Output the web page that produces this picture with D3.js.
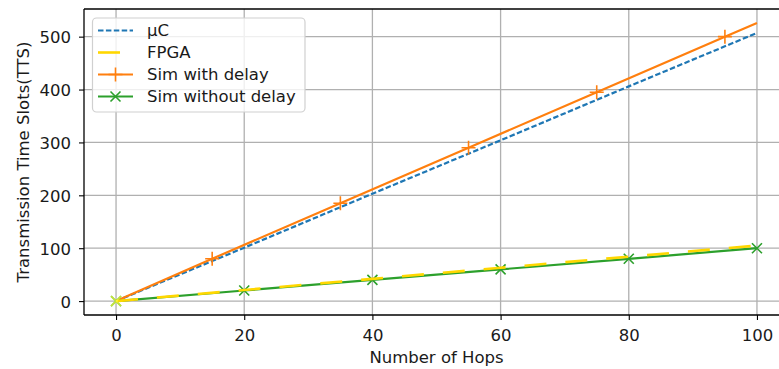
<!DOCTYPE html>
<html>
<head>
<meta charset="utf-8">
<script src="https://cdn.jsdelivr.net/npm/d3@7"></script>
<style>
  html, body { margin: 0; padding: 0; background: #fff; overflow: hidden; }
  svg { display: block; font-family: "DejaVu Sans", sans-serif; }
</style>
</head>
<body>
<svg id="chart" width="779" height="369"></svg>
<script>
// ---- data ----
const xTicks = [0, 20, 40, 60, 80, 100];
const yTicks = [0, 100, 200, 300, 400, 500];

const ucX = [0, 20, 40, 60, 80, 100];
const ucY = [0, 101, 203, 304, 406, 507];

const fpgaX = [0, 20, 40, 60, 80, 100];
const fpgaY = [0, 21, 42, 63, 84, 105];

const simDelayX = [0, 15, 35, 55, 75, 95, 100];
const simDelayY = [0, 80, 185, 290, 395, 500, 526];
const simDelayMarkX = [15, 35, 55, 75, 95];

const simNoDelayX = [0, 20, 40, 60, 80, 100];
const simNoDelayY = [0, 20, 40, 60, 80, 100];

const legendLabels = ["\u03bcC", "FPGA", "Sim with delay", "Sim without delay"];
const xLabel = "Number of Hops";
const yLabel = "Transmission Time Slots(TTS)";

// ---- layout ----
const svg = d3.select("#chart");
const L = 84, T = 9, R = 789, B = 315;
const x = d3.scaleLinear().domain([-5, 105]).range([L, R]);
const y = d3.scaleLinear().domain([-26.3, 552.3]).range([B, T]);
const FS = "16.5px";

// grid
const grid = svg.append("g");
xTicks.forEach(t => grid.append("line")
  .attr("x1", x(t)).attr("x2", x(t)).attr("y1", T).attr("y2", B)
  .attr("stroke", "#b0b0b0").attr("stroke-width", 1.3));
yTicks.forEach(t => grid.append("line")
  .attr("x1", L).attr("x2", R).attr("y1", y(t)).attr("y2", y(t))
  .attr("stroke", "#b0b0b0").attr("stroke-width", 1.3));

// axes
const xAxis = d3.axisBottom(x).tickValues(xTicks).tickSize(5).tickPadding(6).tickFormat(d3.format("d"));
const yAxis = d3.axisLeft(y).tickValues(yTicks).tickSize(5).tickPadding(8).tickFormat(d3.format("d"));
const gx = svg.append("g").attr("transform", `translate(0,${B})`).call(xAxis);
const gy = svg.append("g").attr("transform", `translate(${L},0)`).call(yAxis);
[gx, gy].forEach(g => {
  g.select(".domain").remove();
  g.selectAll(".tick line").attr("stroke", "#000").attr("stroke-width", 1.1);
  g.selectAll(".tick text").attr("fill", "#1a1a1a").style("font-size", FS).style("font-family", "DejaVu Sans");
});
gx.selectAll(".tick text").attr("dy", null).attr("y", 25.5);
gy.selectAll(".tick text").attr("dy", "0.36em");

// lines
const line = d3.line().x(d => x(d[0])).y(d => y(d[1]));
const plot = svg.append("g");
plot.append("path").datum(ucX.map((v, i) => [v, ucY[i]]))
  .attr("d", line).attr("fill", "none").attr("stroke", "#1f77b4")
  .attr("stroke-width", 2.2).attr("stroke-dasharray", "5.5,2.4");

plot.append("path").datum(simDelayX.map((v, i) => [v, simDelayY[i]]))
  .attr("d", line).attr("fill", "none").attr("stroke", "#ff7f0e").attr("stroke-width", 2.2);
simDelayMarkX.forEach(mx => {
  const i = simDelayX.indexOf(mx);
  const cx = x(mx), cy = y(simDelayY[i]), s = 7;
  plot.append("path").attr("d", `M${cx - s},${cy}H${cx + s}M${cx},${cy - s}V${cy + s}`)
    .attr("stroke", "#ff7f0e").attr("stroke-width", 1.6);
});

plot.append("path").datum(simNoDelayX.map((v, i) => [v, simNoDelayY[i]]))
  .attr("d", line).attr("fill", "none").attr("stroke", "#2ca02c").attr("stroke-width", 2.2);
simNoDelayX.forEach((mx, i) => {
  const cx = x(mx), cy = y(simNoDelayY[i]), s = 5;
  plot.append("path").attr("d", `M${cx - s},${cy - s}L${cx + s},${cy + s}M${cx - s},${cy + s}L${cx + s},${cy - s}`)
    .attr("stroke", "#2ca02c").attr("stroke-width", 1.6);
});

plot.append("path").datum(fpgaX.map((v, i) => [v, fpgaY[i]]))
  .attr("d", line).attr("fill", "none").attr("stroke", "#ffd700")
  .attr("stroke-width", 2.6).attr("stroke-dasharray", "22,19");
{
  const cx = x(fpgaX[0]), cy = y(fpgaY[0]), s = 5;
  plot.append("path").attr("d", `M${cx - s},${cy - s}L${cx + s},${cy + s}M${cx - s},${cy + s}L${cx + s},${cy - s}`)
    .attr("stroke", "#ffff44").attr("stroke-opacity", 0.7).attr("stroke-width", 2);
}

// spines
svg.append("line").attr("x1", L).attr("x2", L).attr("y1", T).attr("y2", B).attr("stroke", "#000").attr("stroke-width", 1.3);
svg.append("line").attr("x1", L).attr("x2", R).attr("y1", B).attr("y2", B).attr("stroke", "#000").attr("stroke-width", 1.3);
svg.append("line").attr("x1", L).attr("x2", R).attr("y1", T).attr("y2", T).attr("stroke", "#000").attr("stroke-width", 1.3);

// axis labels
svg.append("text").attr("x", (L + R) / 2).attr("y", 363).attr("text-anchor", "middle")
  .attr("fill", "#1a1a1a").style("font-size", FS).text(xLabel);
svg.append("text").attr("transform", `translate(29,${(T + B) / 2}) rotate(-90)`).attr("text-anchor", "middle")
  .attr("fill", "#1a1a1a").style("font-size", FS).text(yLabel);

// legend
const lg = svg.append("g");
lg.append("rect").attr("x", 92.5).attr("y", 18).attr("width", 212.5).attr("height", 94)
  .attr("rx", 4).attr("fill", "#fff").attr("fill-opacity", 0.8)
  .attr("stroke", "#d0d0d0").attr("stroke-width", 1.2);
const rowY = i => 30.5 + 22 * i;
const hx0 = 98, hx1 = 133, hxm = 115.5;
lg.append("line").attr("x1", hx0).attr("x2", hx1).attr("y1", rowY(0)).attr("y2", rowY(0))
  .attr("stroke", "#1f77b4").attr("stroke-width", 2.2).attr("stroke-dasharray", "5.5,2.4");
lg.append("line").attr("x1", hx0).attr("x2", hx1).attr("y1", rowY(1)).attr("y2", rowY(1))
  .attr("stroke", "#ffd700").attr("stroke-width", 2.6).attr("stroke-dasharray", "22,19");
lg.append("line").attr("x1", hx0).attr("x2", hx1).attr("y1", rowY(2)).attr("y2", rowY(2))
  .attr("stroke", "#ff7f0e").attr("stroke-width", 2.2);
lg.append("path").attr("d", `M${hxm - 7},${rowY(2)}H${hxm + 7}M${hxm},${rowY(2) - 7}V${rowY(2) + 7}`)
  .attr("stroke", "#ff7f0e").attr("stroke-width", 1.6);
lg.append("line").attr("x1", hx0).attr("x2", hx1).attr("y1", rowY(3)).attr("y2", rowY(3))
  .attr("stroke", "#2ca02c").attr("stroke-width", 2.2);
lg.append("path").attr("d", `M${hxm - 5},${rowY(3) - 5}L${hxm + 5},${rowY(3) + 5}M${hxm - 5},${rowY(3) + 5}L${hxm + 5},${rowY(3) - 5}`)
  .attr("stroke", "#2ca02c").attr("stroke-width", 1.6);
legendLabels.forEach((t, i) => lg.append("text").attr("x", 147).attr("y", rowY(i)).attr("dy", "0.36em")
  .attr("fill", "#1a1a1a").style("font-size", FS).text(t));
</script>
</body>
</html>
